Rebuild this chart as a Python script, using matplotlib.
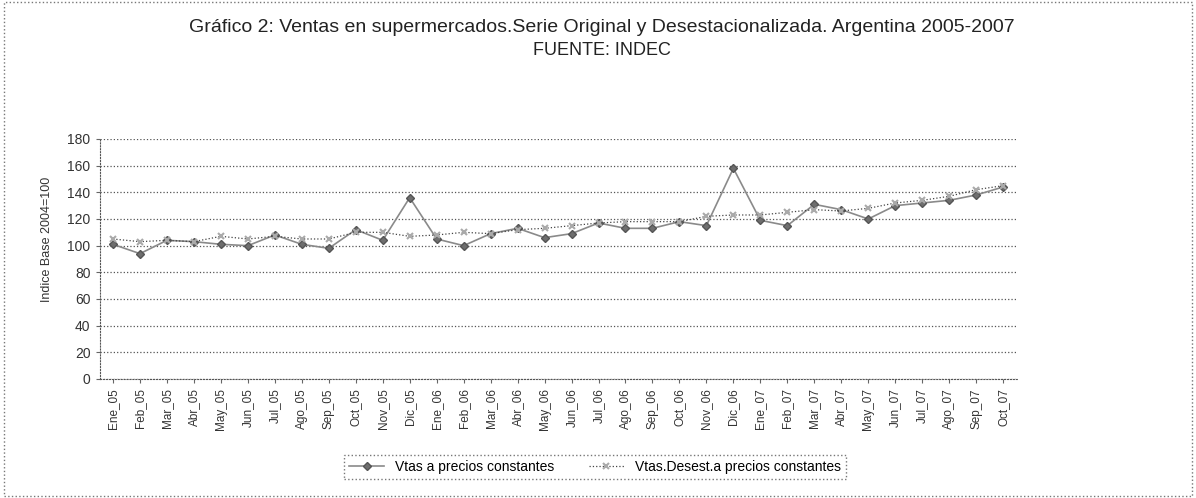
import matplotlib
matplotlib.use("Agg")
import matplotlib.pyplot as plt
from matplotlib.patches import Rectangle

plt.rcParams['font.family'] = ['Liberation Sans', 'DejaVu Sans']

# Meses (Ene_05 .. Oct_07)
meses = [
    'Ene_05', 'Feb_05', 'Mar_05', 'Abr_05', 'May_05', 'Jun_05', 'Jul_05',
    'Ago_05', 'Sep_05', 'Oct_05', 'Nov_05', 'Dic_05',
    'Ene_06', 'Feb_06', 'Mar_06', 'Abr_06', 'May_06', 'Jun_06', 'Jul_06',
    'Ago_06', 'Sep_06', 'Oct_06', 'Nov_06', 'Dic_06',
    'Ene_07', 'Feb_07', 'Mar_07', 'Abr_07', 'May_07', 'Jun_07', 'Jul_07',
    'Ago_07', 'Sep_07', 'Oct_07',
]

# Serie original (ventas a precios constantes)
vtas_original = [
    101, 94, 104, 103, 101, 100, 108, 101, 98, 112, 104, 136,
    105, 100, 109, 113, 106, 109, 117, 113, 113, 118, 115, 158,
    119, 115, 131, 127, 120, 130, 132, 134, 138, 144,
]

# Serie desestacionalizada
vtas_desest = [
    105, 103, 104, 103, 107, 105, 107, 105, 105, 110, 110, 107,
    108, 110, 109, 112, 113, 115, 117, 118, 118, 118, 122, 123,
    123, 125, 127, 126, 128, 132, 134, 137, 142, 145,
]

y_ticks = [0, 20, 40, 60, 80, 100, 120, 140, 160, 180]

fig = plt.figure(figsize=(11.96, 4.98), dpi=100)
ax = fig.add_axes([0.0832, 0.239, 0.7668, 0.4819])

x = list(range(len(meses)))

ax.plot(x, vtas_original, color='#8a8a8a', linewidth=1.2,
        marker='D', markersize=4.5, markerfacecolor='#6e6e6e',
        markeredgecolor='#555555', label='Vtas a precios constantes',
        zorder=3)
ax.plot(x, vtas_desest, color='#444444', linewidth=0.9, linestyle=':',
        marker='x', markersize=5, markeredgewidth=1.5,
        markeredgecolor='#aaaaaa', label='Vtas.Desest.a precios constantes',
        zorder=4)

ax.set_xlim(-0.5, len(meses) - 0.5)
ax.set_ylim(0, 180)
ax.set_yticks(y_ticks)
ax.set_yticklabels([str(v) for v in y_ticks], fontsize=10, color='#333333')
ax.set_xticks(x)
ax.set_xticklabels(meses, rotation=90, fontsize=8.5, color='#333333')
ax.tick_params(axis='both', length=3, color='#666666')

ax.yaxis.grid(True, linestyle=':', color='#555555', linewidth=0.9)
ax.set_axisbelow(True)
for side in ['top', 'right']:
    ax.spines[side].set_visible(False)
for side in ['left', 'bottom']:
    ax.spines[side].set_linestyle(':')
    ax.spines[side].set_color('#555555')

ax.set_ylabel('Indice Base 2004=100', fontsize=9, color='#333333')
ax.yaxis.set_label_coords(-0.051, 0.58)

fig.text(0.503, 0.944,
         'Gráfico 2: Ventas en supermercados.Serie Original y '
         'Desestacionalizada. Argentina 2005-2007',
         ha='center', va='center', fontsize=14, color='#222222')
fig.text(0.503, 0.899, 'FUENTE: INDEC', ha='center', va='center',
         fontsize=13, color='#222222')

leg = ax.legend(loc='center', bbox_to_anchor=(0.4975, 0.0622),
                bbox_transform=fig.transFigure, ncol=2, fontsize=10,
                frameon=True, fancybox=False, handlelength=2.5,
                columnspacing=2.5, borderpad=0.35)
leg.get_frame().set_edgecolor('#555555')
leg.get_frame().set_linestyle(':')

# marco exterior punteado
fig.patches.append(Rectangle((0.003, 0.005), 0.994, 0.99,
                             transform=fig.transFigure, fill=False,
                             linestyle=':', edgecolor='#777777',
                             linewidth=1))

fig.savefig('out.png', dpi=100)
